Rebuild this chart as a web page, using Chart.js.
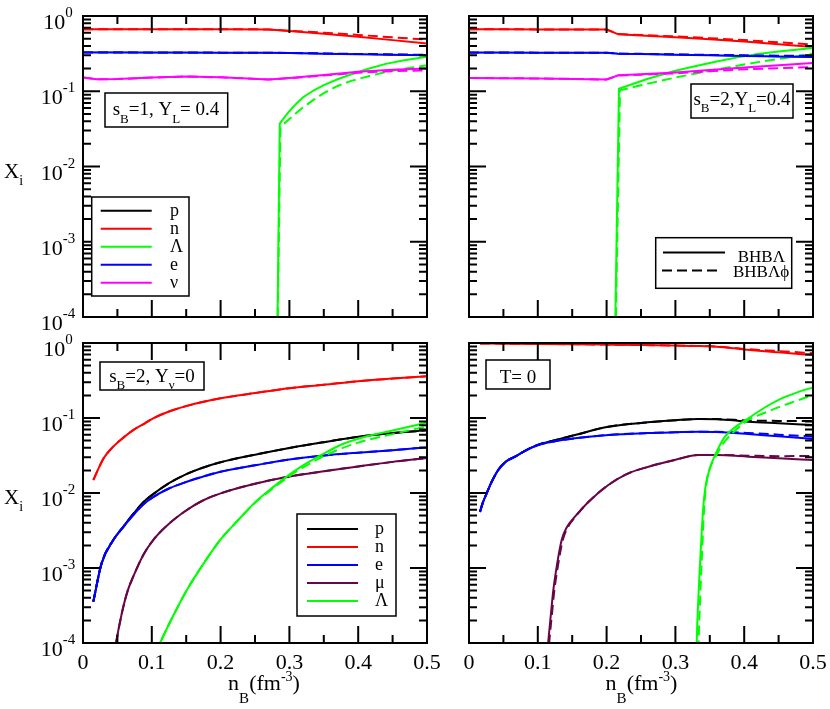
<!DOCTYPE html>
<html>
<head>
<meta charset="utf-8">
<script src="https://cdn.jsdelivr.net/npm/chart.js@4.4.1/dist/chart.umd.min.js"></script>
<style>
  html, body { margin: 0; padding: 0; background: #fff; }
  canvas { position: absolute; left: 0; top: 0; }
</style>
</head>
<body>
<canvas id="cTL" width="830" height="709"></canvas>
<canvas id="cTR" width="830" height="709"></canvas>
<canvas id="cBL" width="830" height="709"></canvas>
<canvas id="cBR" width="830" height="709"></canvas>
<script>
// ---------------- DATA ----------------
const xTickValues = [0, 0.1, 0.2, 0.3, 0.4, 0.5];
const xTickLabels = ['0', '0.1', '0.2', '0.3', '0.4', '0.5'];
const yDecades = [0, -1, -2, -3, -4];

// Top-left: s_B=1, Y_L=0.4   (p coincides with e here)
const xTL = [0, 0.05, 0.1, 0.15, 0.2, 0.27, 0.3, 0.35, 0.4, 0.45, 0.5];
const pTL  = [0.328, 0.328, 0.327, 0.327, 0.326, 0.325, 0.322, 0.316, 0.31, 0.305, 0.30];
const pTLd = [0.328, 0.328, 0.327, 0.327, 0.326, 0.325, 0.323, 0.318, 0.313, 0.309, 0.305];
const nTL  = [0.665, 0.666, 0.666, 0.665, 0.665, 0.664, 0.632, 0.582, 0.53, 0.478, 0.43];
const nTLd = [0.665, 0.666, 0.666, 0.665, 0.665, 0.664, 0.636, 0.60, 0.56, 0.52, 0.485];
const eTL  = [0.328, 0.328, 0.327, 0.327, 0.326, 0.325, 0.322, 0.316, 0.31, 0.305, 0.30];
const eTLd = [0.328, 0.328, 0.327, 0.327, 0.326, 0.325, 0.323, 0.318, 0.313, 0.309, 0.305];
const xvTL = [0, 0.02, 0.05, 0.1, 0.15, 0.2, 0.27, 0.3, 0.35, 0.4, 0.45, 0.5];
const vTL  = [0.152, 0.144, 0.145, 0.152, 0.157, 0.153, 0.143, 0.15, 0.165, 0.182, 0.193, 0.2];
const vTLd = [0.152, 0.144, 0.145, 0.152, 0.157, 0.153, 0.143, 0.149, 0.162, 0.176, 0.185, 0.19];
const xLTL  = [0.2815, 0.286, 0.29, 0.295, 0.3, 0.31, 0.32, 0.335, 0.35, 0.37, 0.39, 0.415, 0.44, 0.465, 0.5];
const LTL   = [1e-5, 0.0372, 0.0417, 0.0479, 0.0543, 0.0684, 0.0832, 0.1023, 0.1208, 0.1445, 0.168, 0.1995, 0.2312, 0.257, 0.2884];
const xLTLd = [0.2815, 0.287, 0.295, 0.3, 0.31, 0.32, 0.335, 0.35, 0.37, 0.39, 0.415, 0.44, 0.465, 0.5];
const LTLd  = [1e-5, 0.0335, 0.0389, 0.0427, 0.0513, 0.061, 0.0767, 0.0944, 0.1175, 0.1374, 0.1585, 0.1799, 0.1982, 0.2213];

// Top-right: s_B=2, Y_L=0.4   (p coincides with e here)
const xTR = [0, 0.05, 0.1, 0.15, 0.2, 0.217, 0.25, 0.3, 0.35, 0.4, 0.45, 0.5];
const pTR  = [0.327, 0.327, 0.326, 0.326, 0.325, 0.316, 0.312, 0.306, 0.3, 0.294, 0.289, 0.285];
const pTRd = [0.327, 0.327, 0.326, 0.326, 0.325, 0.317, 0.314, 0.309, 0.304, 0.3, 0.297, 0.295];
const nTR  = [0.665, 0.665, 0.664, 0.663, 0.662, 0.571, 0.552, 0.522, 0.49, 0.458, 0.42, 0.387];
const nTRd = [0.665, 0.665, 0.664, 0.663, 0.662, 0.575, 0.56, 0.535, 0.508, 0.478, 0.447, 0.417];
const eTR  = [0.327, 0.327, 0.326, 0.326, 0.325, 0.316, 0.312, 0.306, 0.3, 0.294, 0.289, 0.285];
const eTRd = [0.327, 0.327, 0.326, 0.326, 0.325, 0.317, 0.314, 0.309, 0.304, 0.3, 0.297, 0.295];
const vTR  = [0.15, 0.149, 0.148, 0.146, 0.143, 0.163, 0.168, 0.178, 0.192, 0.207, 0.222, 0.238];
const vTRd = [0.15, 0.149, 0.148, 0.146, 0.143, 0.162, 0.166, 0.173, 0.184, 0.196, 0.203, 0.21];
const xLTR  = [0.211, 0.218, 0.24, 0.26, 0.28, 0.3, 0.33, 0.36, 0.39, 0.42, 0.45, 0.475, 0.5];
const LTR   = [1e-5, 0.108, 0.127, 0.1466, 0.166, 0.187, 0.216, 0.248, 0.282, 0.313, 0.337, 0.356, 0.376];
const xLTRd = [0.2115, 0.2195, 0.25, 0.28, 0.3, 0.33, 0.36, 0.39, 0.42, 0.45, 0.475, 0.5];
const LTRd  = [1e-5, 0.103, 0.1202, 0.1387, 0.152, 0.1726, 0.195, 0.2188, 0.2438, 0.2692, 0.2917, 0.316];

// Bottom-left: s_B=2, Y_nu=0
const xnBL = [0.015, 0.03, 0.044, 0.06, 0.073, 0.09, 0.102, 0.125, 0.151, 0.2, 0.25, 0.3, 0.35, 0.4, 0.45, 0.5];
const nBL  = [0.0149, 0.029, 0.0415, 0.056, 0.069, 0.085, 0.099, 0.122, 0.145, 0.183, 0.215, 0.25, 0.277, 0.31, 0.335, 0.36];
const xpBL = [0.015, 0.027, 0.044, 0.059, 0.073, 0.088, 0.102, 0.125, 0.151, 0.175, 0.2, 0.25, 0.3, 0.35, 0.4, 0.45, 0.5];
const pBL  = [3.56e-4, 1.153e-3, 2.36e-3, 3.6e-3, 5.25e-3, 7.59e-3, 9.66e-3, 0.0135, 0.018, 0.0219, 0.0257, 0.0324, 0.0398, 0.0476, 0.0562, 0.0631, 0.0684];
const eBL  = [3.56e-4, 1.153e-3, 2.36e-3, 3.55e-3, 5.07e-3, 7.08e-3, 8.81e-3, 0.01148, 0.01413, 0.0166, 0.01923, 0.0234, 0.0279, 0.0316, 0.0345, 0.0372, 0.0407];
const xmBL = [0.044, 0.048, 0.052, 0.0586, 0.065, 0.073, 0.088, 0.102, 0.125, 0.151, 0.175, 0.2, 0.25, 0.3, 0.35, 0.4, 0.45, 0.5];
const mBL  = [6.3e-5, 1e-4, 1.58e-4, 3.05e-4, 5.0e-4, 7.66e-4, 1.51e-3, 2.36e-3, 3.89e-3, 5.93e-3, 8.0e-3, 9.9e-3, 0.0133, 0.0166, 0.0195, 0.0226, 0.026, 0.0292];
const xLBL = [0.105, 0.112, 0.13, 0.151, 0.175, 0.2, 0.225, 0.25, 0.275, 0.3, 0.32, 0.35, 0.375, 0.4, 0.45, 0.5];
const LBL  = [7.2e-5, 1e-4, 2.2e-4, 5.09e-4, 1.135e-3, 2.4e-3, 4.3e-3, 7.5e-3, 0.0117, 0.0176, 0.0234, 0.0335, 0.044, 0.053, 0.068, 0.087];
const LBLd = [7.2e-5, 1e-4, 2.2e-4, 5.09e-4, 1.135e-3, 2.4e-3, 4.3e-3, 7.4e-3, 0.0113, 0.0168, 0.022, 0.031, 0.039, 0.047, 0.061, 0.077];

// Bottom-right: T=0
const xnBR = [0.016, 0.05, 0.1, 0.15, 0.2, 0.25, 0.3, 0.333, 0.36, 0.4, 0.45, 0.5];
const nBR  = [0.985, 0.98, 0.972, 0.963, 0.952, 0.94, 0.925, 0.912, 0.89, 0.82, 0.75, 0.69];
const nBRd = [0.985, 0.98, 0.972, 0.963, 0.952, 0.94, 0.925, 0.914, 0.895, 0.835, 0.78, 0.73];
const xeBR = [0.016, 0.02, 0.0257, 0.033, 0.0426, 0.054, 0.0669, 0.08, 0.1007, 0.125, 0.154, 0.2025, 0.26, 0.3, 0.333, 0.36, 0.406, 0.45, 0.5];
const eBR  = [5.6e-3, 7.4e-3, 9.9e-3, 0.0141, 0.0203, 0.0264, 0.0305, 0.036, 0.0437, 0.049, 0.0536, 0.0593, 0.063, 0.0646, 0.0657, 0.0652, 0.0612, 0.0569, 0.0525];
const eBRd = [5.6e-3, 7.4e-3, 9.9e-3, 0.0141, 0.0203, 0.0264, 0.0305, 0.036, 0.0437, 0.049, 0.0536, 0.0593, 0.063, 0.0646, 0.0657, 0.0655, 0.0632, 0.06, 0.0564];
const pBR  = [5.6e-3, 7.4e-3, 9.9e-3, 0.0141, 0.0203, 0.0264, 0.0305, 0.036, 0.0442, 0.0507, 0.0593, 0.0766, 0.0875, 0.0933, 0.097, 0.0966, 0.0893, 0.0851, 0.0807];
const pBRd = [5.6e-3, 7.4e-3, 9.9e-3, 0.0141, 0.0203, 0.0264, 0.0305, 0.036, 0.0442, 0.0507, 0.0593, 0.0766, 0.0875, 0.0933, 0.097, 0.0968, 0.0925, 0.0915, 0.0912];
const xmBR  = [0.113, 0.115, 0.119, 0.1226, 0.1275, 0.1347, 0.142, 0.154, 0.1735, 0.2025, 0.23, 0.261, 0.3, 0.333, 0.36, 0.406, 0.45, 0.5];
const mBR   = [6e-5, 1e-4, 2.4e-4, 5.1e-4, 1.05e-3, 2.36e-3, 3.47e-3, 4.83e-3, 7.6e-3, 0.0128, 0.018, 0.0224, 0.0277, 0.0321, 0.032, 0.0305, 0.029, 0.0275];
const xmBRd = [0.1145, 0.1165, 0.1205, 0.124, 0.129, 0.136, 0.143, 0.1545, 0.1735, 0.2025, 0.23, 0.261, 0.3, 0.333, 0.36, 0.406, 0.45, 0.5];
const mBRd  = [6e-5, 1e-4, 2.4e-4, 5.0e-4, 1.03e-3, 2.3e-3, 3.4e-3, 4.8e-3, 7.6e-3, 0.0128, 0.018, 0.0224, 0.0277, 0.0321, 0.0322, 0.0315, 0.031, 0.0311];
const xLBR  = [0.3302, 0.331, 0.3333, 0.3358, 0.3382, 0.3406, 0.3435, 0.3465, 0.3527, 0.3615, 0.372, 0.388, 0.406, 0.43, 0.4545, 0.478, 0.5];
const LBR   = [3.16e-5, 1e-4, 3.8e-4, 1.153e-3, 2.95e-3, 6.58e-3, 0.01175, 0.0162, 0.0249, 0.038, 0.0564, 0.0767, 0.0991, 0.138, 0.1828, 0.2213, 0.2564];
const xLBRd = [0.333, 0.3338, 0.336, 0.3385, 0.3406, 0.343, 0.346, 0.3505, 0.3576, 0.368, 0.3818, 0.406, 0.43, 0.4545, 0.478, 0.5];
const LBRd  = [3.16e-5, 1e-4, 3.98e-4, 1.41e-3, 3.94e-3, 8.9e-3, 0.0151, 0.0219, 0.0295, 0.0437, 0.0612, 0.094, 0.1175, 0.1445, 0.1718, 0.2028];

// ---------------- STYLE ----------------
const W = 830, H = 709;
const FONT = '"Liberation Serif", "Times New Roman", Times, serif';
const C = { p: '#000000', n: '#ff0000', L: '#00ff00', e: '#0000ff', v: '#ff00ff', m: '#670748' };
const DASH = [10, 5];

function pts(xs, ys) { return xs.map((x, i) => ({ x: x, y: ys[i] })); }
function ds(xs, ys, color, dashed, smooth, width) {
  const o = {
    data: pts(xs, ys), borderColor: color, borderWidth: width || 2,
    borderDash: dashed ? DASH : [], pointRadius: 0, fill: false, tension: 0
  };
  if (smooth) o.cubicInterpolationMode = 'monotone';
  return o;
}

function drawRuns(ctx, runs, x, y, align) {
  let w = 0;
  for (const r of runs) { ctx.font = r.size + 'px ' + FONT; w += ctx.measureText(r.t).width; }
  let cx = align === 'center' ? x - w / 2 : (align === 'right' ? x - w : x);
  ctx.textAlign = 'left'; ctx.textBaseline = 'alphabetic'; ctx.fillStyle = '#000';
  for (const r of runs) {
    ctx.font = r.size + 'px ' + FONT;
    ctx.fillText(r.t, cx, y + (r.dy || 0));
    cx += ctx.measureText(r.t).width;
  }
}

function decorPlugin(d) {
  return {
    id: 'decor',
    afterDatasetsDraw(chart) {
      const ctx = chart.ctx, xs = chart.scales.x, ys = chart.scales.y, a = chart.chartArea;
      ctx.save();
      ctx.setLineDash([]);
      ctx.strokeStyle = '#000';
      ctx.lineWidth = 2;
      ctx.beginPath();
      for (let i = 0; i <= 10; i++) {
        const px = xs.getPixelForValue(i * 0.05);
        const len = (i % 2 === 0) ? 17 : 8;
        ctx.moveTo(px, a.bottom); ctx.lineTo(px, a.bottom - len);
        ctx.moveTo(px, a.top); ctx.lineTo(px, a.top + len);
      }
      for (let e = -4; e < 0; e++) {
        for (let m = 1; m <= 9; m++) {
          const py = ys.getPixelForValue(m * Math.pow(10, e));
          const len = (m === 1) ? 17 : 8;
          ctx.moveTo(a.left, py); ctx.lineTo(a.left + len, py);
          ctx.moveTo(a.right, py); ctx.lineTo(a.right - len, py);
        }
      }
      ctx.stroke();
      ctx.strokeRect(a.left, a.top, a.right - a.left, a.bottom - a.top);

      if (d.yLabels) {
        for (const e of yDecades) {
          const py = ys.getPixelForValue(Math.pow(10, e));
          drawRuns(ctx, [{ t: '10', size: 22 }, { t: String(e), size: 15, dy: -12 }], 58, py + 13, 'center');
        }
        const cy = (a.top + a.bottom) / 2;
        drawRuns(ctx, [{ t: 'X', size: 21 }, { t: 'i', size: 14, dy: 7 }], 4, cy + 11, 'left');
      }
      if (d.xLabels) {
        xTickValues.forEach((v, i) => {
          const px = xs.getPixelForValue(v);
          drawRuns(ctx, [{ t: xTickLabels[i], size: 22 }], px, a.bottom + 26, 'center');
        });
        drawRuns(ctx, [
          { t: 'n', size: 22 }, { t: 'B', size: 15, dy: 13 }, { t: '(fm', size: 22 },
          { t: '-3', size: 14, dy: -9 }, { t: ')', size: 22 }
        ], d.xTitleX, a.bottom + 47, 'center');
      }
      ctx.lineWidth = 1.5;
      for (const b of d.boxes) {
        ctx.fillStyle = '#fff';
        ctx.fillRect(b.x, b.y, b.w, b.h);
        ctx.strokeStyle = '#000';
        ctx.strokeRect(b.x, b.y, b.w, b.h);
      }
      for (const k of d.keys) {
        ctx.beginPath();
        ctx.strokeStyle = k.color; ctx.lineWidth = 2;
        ctx.setLineDash(k.dash ? DASH : []);
        ctx.moveTo(k.x1, k.y); ctx.lineTo(k.x2, k.y);
        ctx.stroke();
      }
      ctx.setLineDash([]);
      for (const t of d.texts) drawRuns(ctx, t.runs, t.x, t.y, t.align);
      ctx.restore();
    }
  };
}

function makeChart(id, box, datasets, d) {
  // Chart.js paints dataset 0 last; reverse so the list order is the paint order
  return new Chart(document.getElementById(id), {
    type: 'line',
    data: { datasets: datasets.slice().reverse() },
    options: {
      responsive: false, animation: false, events: [],
      layout: { autoPadding: false, padding: { left: box.L, top: box.T, right: W - box.R, bottom: H - box.B } },
      plugins: { legend: { display: false }, tooltip: { enabled: false }, title: { display: false } },
      scales: {
        x: { type: 'linear', min: 0, max: 0.5, display: false },
        y: { type: 'logarithmic', min: 1e-4, max: 1, display: false }
      }
    },
    plugins: [decorPlugin(d)]
  });
}

function legendRows(labels, colors, x1, x2, y0, tx) {
  const keys = [], texts = [];
  labels.forEach((lab, i) => {
    const y = y0 + 18 * i;
    keys.push({ x1: x1, x2: x2, y: y, color: colors[i] });
    texts.push({ runs: [{ t: lab, size: 18 }], x: tx, y: y + 5, align: 'left' });
  });
  return { keys, texts };
}

// ---------- Top-left ----------
const lgTL = legendRows(['p', 'n', 'Λ', 'e', 'ν'], [C.p, C.n, C.L, C.e, C.v], 100.7, 151.7, 210.7, 170);
makeChart('cTL', { L: 83, T: 16, R: 427, B: 317 }, [
  ds(xTL, pTL, C.p, false, false, 1.2), ds(xTL, pTLd, C.p, true, false, 1.2),
  ds(xTL, nTL, C.n, false), ds(xTL, nTLd, C.n, true),
  ds(xLTL, LTL, C.L, false), ds(xLTLd, LTLd, C.L, true),
  ds(xTL, eTL, C.e, false), ds(xTL, eTLd, C.e, true),
  ds(xvTL, vTL, C.v, false), ds(xvTL, vTLd, C.v, true)
], {
  yLabels: true, xLabels: false,
  boxes: [{ x: 105, y: 93, w: 122.7, h: 34 }, { x: 91.7, y: 197, w: 97.3, h: 99 }],
  keys: lgTL.keys,
  texts: [{ runs: [{ t: 's', size: 19 }, { t: 'B', size: 13, dy: 8 }, { t: '=1, Y', size: 19 }, { t: 'L', size: 13, dy: 8 }, { t: '= 0.4', size: 19 }], x: 166, y: 115, align: 'center' }].concat(lgTL.texts)
});

// ---------- Top-right ----------
makeChart('cTR', { L: 469, T: 16, R: 813, B: 317 }, [
  ds(xTR, pTR, C.p, false, false, 1.2), ds(xTR, pTRd, C.p, true, false, 1.2),
  ds(xTR, nTR, C.n, false), ds(xTR, nTRd, C.n, true),
  ds(xLTR, LTR, C.L, false), ds(xLTRd, LTRd, C.L, true),
  ds(xTR, eTR, C.e, false), ds(xTR, eTRd, C.e, true),
  ds(xTR, vTR, C.v, false), ds(xTR, vTRd, C.v, true)
], {
  yLabels: false, xLabels: false,
  boxes: [{ x: 691, y: 84, w: 102, h: 34 }, { x: 655.7, y: 237.7, w: 136, h: 50.6 }],
  keys: [{ x1: 663, x2: 725, y: 252.5, color: '#000' }, { x1: 662, x2: 720, y: 270.5, color: '#000', dash: true }],
  texts: [
    { runs: [{ t: 's', size: 19 }, { t: 'B', size: 13, dy: 7 }, { t: '=2,Y', size: 19 }, { t: 'L', size: 13, dy: 7 }, { t: '=0.4', size: 19 }], x: 742, y: 105, align: 'center' },
    { runs: [{ t: 'BHBΛ', size: 17 }], x: 737.7, y: 261.5, align: 'left' },
    { runs: [{ t: 'BHBΛϕ', size: 17 }], x: 733, y: 277, align: 'left' }
  ]
});

// ---------- Bottom-left ----------
const lgBL = legendRows(['p', 'n', 'e', 'μ', 'Λ'], [C.p, C.n, C.e, C.m, C.L], 307, 358, 529, 375);
makeChart('cBL', { L: 83, T: 343, R: 427, B: 643 }, [
  ds(xpBL, pBL, C.p, false, true), ds(xpBL, pBL, C.p, true, true),
  ds(xnBL, nBL, C.n, false, true), ds(xnBL, nBL, C.n, true, true),
  ds(xpBL, eBL, C.e, false, true), ds(xpBL, eBL, C.e, true, true),
  ds(xmBL, mBL, C.m, false, true), ds(xmBL, mBL, C.m, true, true),
  ds(xLBL, LBL, C.L, false, true), ds(xLBL, LBLd, C.L, true, true)
], {
  yLabels: true, xLabels: true, xTitleX: 264,
  boxes: [{ x: 100, y: 362, w: 104, h: 28 }, { x: 297, y: 514, w: 99, h: 102 }],
  keys: lgBL.keys,
  texts: [{ runs: [{ t: 's', size: 19 }, { t: 'B', size: 13, dy: 7 }, { t: '=2, Y', size: 19 }, { t: 'ν', size: 13, dy: 7 }, { t: '=0', size: 19 }], x: 152, y: 381.5, align: 'center' }].concat(lgBL.texts)
});

// ---------- Bottom-right ----------
makeChart('cBR', { L: 469, T: 343, R: 813, B: 643 }, [
  ds(xeBR, pBR, C.p, false, true), ds(xeBR, pBRd, C.p, true, true),
  ds(xnBR, nBR, C.n, false, true), ds(xnBR, nBRd, C.n, true, true),
  ds(xeBR, eBR, C.e, false, true), ds(xeBR, eBRd, C.e, true, true),
  ds(xmBR, mBR, C.m, false, true), ds(xmBRd, mBRd, C.m, true, true),
  ds(xLBR, LBR, C.L, false, true), ds(xLBRd, LBRd, C.L, true, true)
], {
  yLabels: false, xLabels: true, xTitleX: 641.5,
  boxes: [{ x: 486, y: 360, w: 64, h: 29 }],
  keys: [],
  texts: [{ runs: [{ t: 'T= 0', size: 19 }], x: 518, y: 383, align: 'center' }]
});
</script>
</body>
</html>
